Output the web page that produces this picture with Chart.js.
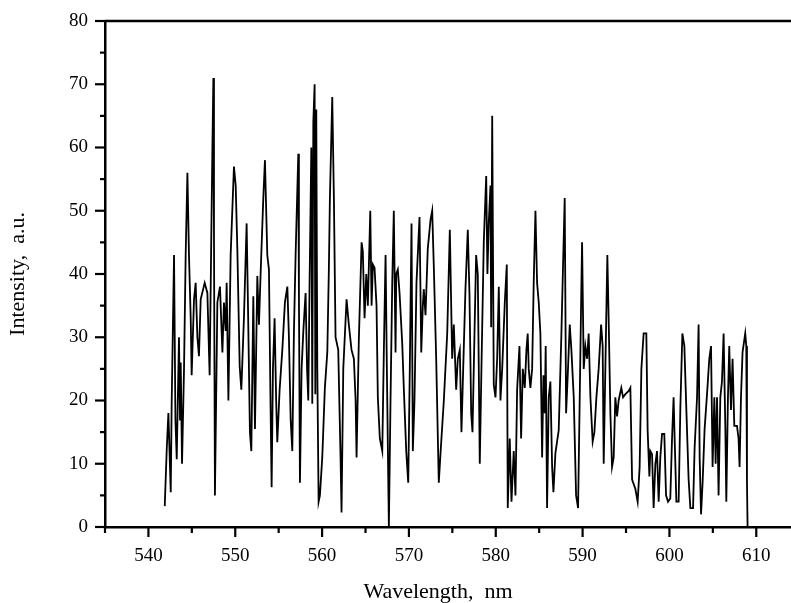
<!DOCTYPE html>
<html><head><meta charset="utf-8">
<script src="https://cdn.jsdelivr.net/npm/chart.js@4/dist/chart.umd.min.js"></script>
<style>html,body{margin:0;padding:0;background:#fff;overflow:hidden}canvas{display:block}</style>
</head><body>
<canvas id="c" width="791" height="603"></canvas>
<script>
const wavelength = [541.88,542.11,542.30,542.57,542.68,542.95,543.11,543.26,543.52,543.64,543.72,543.87,544.10,544.29,544.49,544.67,544.87,544.98,545.25,545.44,545.64,545.82,546.02,546.48,546.79,547.05,547.25,547.36,547.48,547.55,547.66,547.94,548.24,548.52,548.70,548.90,549.01,549.21,549.47,549.85,550.05,550.24,550.51,550.70,551.00,551.31,551.46,551.69,551.85,552.08,552.27,552.54,552.73,552.92,553.23,553.42,553.69,553.88,554.07,554.19,554.34,554.53,554.71,554.84,555.11,555.42,555.72,556.00,556.18,556.38,556.57,556.76,556.95,557.26,557.33,557.45,557.64,557.84,558.10,558.27,558.41,558.56,558.76,558.87,558.99,559.14,559.22,559.33,559.45,559.60,559.75,560.02,560.32,560.60,560.78,560.90,561.17,561.36,561.55,561.86,562.13,562.24,562.44,562.82,563.08,563.39,563.66,563.86,563.97,564.23,564.55,564.69,564.89,565.09,565.27,565.55,565.70,565.85,566.04,566.27,566.42,566.65,566.93,567.11,567.31,567.46,567.69,567.88,568.08,568.26,568.46,568.54,568.72,568.92,569.23,569.41,569.69,569.92,570.10,570.30,570.45,570.64,570.87,571.22,571.42,571.60,571.71,571.91,572.17,572.49,572.68,572.87,573.14,573.44,573.64,574.02,574.41,574.71,574.98,575.17,575.44,575.63,575.86,576.05,576.25,576.51,576.78,576.97,577.17,577.32,577.55,577.74,577.93,578.16,578.35,578.62,578.90,579.04,579.19,579.39,579.47,579.59,579.77,579.97,580.16,580.35,580.54,580.74,581.04,581.27,581.38,581.61,581.81,582.07,582.27,582.46,582.73,582.92,583.11,583.34,583.53,583.68,583.80,583.99,584.19,584.37,584.57,584.76,584.95,585.14,585.34,585.49,585.64,585.75,585.91,586.10,586.29,586.49,586.64,586.87,587.25,587.56,587.76,587.94,588.10,588.29,588.52,588.71,588.98,589.25,589.48,589.67,589.83,589.94,590.13,590.32,590.52,590.70,590.90,591.16,591.36,591.59,591.85,592.13,592.31,592.43,592.62,592.85,593.00,593.20,593.39,593.58,593.77,593.97,594.15,594.46,594.66,594.93,595.31,595.50,595.70,596.08,596.34,596.57,596.77,597.03,597.34,597.49,597.69,597.80,598.00,598.18,598.38,598.57,598.76,598.95,599.15,599.41,599.61,599.84,600.10,600.30,600.48,600.60,600.80,601.06,601.26,601.49,601.72,601.95,602.21,602.41,602.72,602.90,603.18,603.36,603.48,603.64,603.82,604.05,604.33,604.59,604.79,604.97,605.17,605.32,605.48,605.66,605.86,606.05,606.24,606.44,606.55,606.74,606.89,607.09,607.27,607.47,607.78,607.96,608.08,608.24,608.42,608.73,608.85,608.93,609.00];
const intensity = [3.3,12.3,18,5.5,19.7,43,17,10.7,30,17,26,10,25,43,56,43,33,24,36,38.6,30,27,36,38.6,37,24,47,59,71,46,5,35.5,38,27.6,35.5,31,38.6,20,43,57,54,44,25.4,21.7,33,48,35.5,15,12,36.5,15.5,39.7,32,40,52,58,43,40.7,18.6,6.3,25,33,20,13.4,21.7,28,35.5,38,30,17,12,31,43,59,37.5,7,25,31,37,25,20,38.6,60,19.5,64,70,21,66,25,4,5,11,22,27.6,40.7,52,68,52,30,28,10.7,2.3,25,36,32,28,26.6,20,11,29.5,45,43.6,33,40,35,50,35,41.5,41,35,20.5,14,12,27.6,43,25,0,20,38.6,50,27.6,40,40.7,37,29,22,12,7,25,48,12,20,38.6,49,27.6,35,37.6,33.5,44,48.6,50,41,26.6,7,11.7,20,30.6,47,26.6,32,21.7,26.6,28,15,25,37.6,47,37,18,15,30.6,43,40,10,25,45,55.5,40,48,54,31.6,65,22.5,20.5,26.6,38,20,25,35.5,41.5,3,14,4,12,5,21.7,28.6,14,25,22,28,30.6,25,22,25,38.6,50,38.6,35.5,30.6,11,24,18,28.6,3,20.5,23,9.5,5.5,11.7,15.3,30.6,42,52,18,24,32,28,20.5,5,3,20.5,35.5,45,25,28.6,26.6,30.6,20.5,13.5,15,20.5,25,32,28.6,10,25,43,33,18,9.5,11,20.5,17.5,20,22,20.5,21,21.5,22,7.5,6,4,9.5,25,30.6,30.6,15.3,8,12,11.5,3,10,12,4,11,14.7,14.7,5,4,4.5,14,20.5,14,4,4,19,30.6,28.6,18.5,7.5,3,3,12.5,20.5,32,11,2,7,15.5,21,26.6,28.6,9.5,20.5,10,20.5,5,20.5,23,30.6,15.5,4,20.5,28.6,18.5,26.6,16,16,14,9.5,20.5,27.6,30.6,28.6,7,0];
const xTicks = [535,540,545,550,555,560,565,570,575,580,585,590,595,600,605,610];
const yTicks = [0,5,10,15,20,25,30,35,40,45,50,55,60,65,70,75,80];
const xTitle = 'Wavelength,  nm';
const yTitle = 'Intensity,  a.u.';

const FONT = "'Liberation Serif','Times New Roman',serif";
const points = wavelength.map((w, i) => ({x: w, y: intensity[i]}));

const frame = {
  id: 'frame',
  afterDraw(chart) {
    const {ctx, chartArea: a, scales: {x, y}} = chart;
    ctx.save();
    ctx.strokeStyle = '#000';
    ctx.lineWidth = 2.5;
    ctx.beginPath();
    ctx.moveTo(a.left, a.top); ctx.lineTo(a.right + 5, a.top);
    ctx.stroke();
    ctx.lineWidth = 2.2;
    yTicks.forEach(v => {
      const p = y.getPixelForValue(v);
      const len = v % 10 === 0 ? 10 : 5;
      ctx.beginPath(); ctx.moveTo(a.left - len, p); ctx.lineTo(a.left, p); ctx.stroke();
    });
    xTicks.forEach(v => {
      const p = x.getPixelForValue(v);
      const len = v % 10 === 0 ? 10 : 6;
      ctx.beginPath(); ctx.moveTo(p, a.bottom); ctx.lineTo(p, a.bottom + len); ctx.stroke();
    });
    ctx.fillStyle = '#000';
    ctx.font = '22px ' + FONT;
    ctx.textAlign = 'center';
    ctx.textBaseline = 'middle';
    ctx.fillText(xTitle, 438, 592);
    ctx.translate(18, (a.top + a.bottom) / 2);
    ctx.rotate(-Math.PI / 2);
    ctx.fillText(yTitle, 0, 0);
    ctx.restore();
  }
};

new Chart(document.getElementById('c'), {
  type: 'line',
  data: {datasets: [{data: points, borderColor: '#000', borderWidth: 1.8, pointRadius: 0, tension: 0, fill: false}]},
  options: {
    responsive: false,
    animation: false,
    events: [],
    layout: {padding: {top: 21, right: 0, bottom: 0, left: 0}},
    plugins: {legend: {display: false}, tooltip: {enabled: false}},
    scales: {
      x: {
        type: 'linear', min: 535, max: 614,
        afterBuildTicks: s => { s.ticks = xTicks.map(v => ({value: v})); },
        afterFit: s => { s.height = 76; s.paddingLeft = 0; s.paddingRight = 0; },
        grid: {display: false},
        border: {display: true, color: '#000', width: 2.5},
        ticks: {autoSkip: false, maxRotation: 0, color: '#000', padding: 10,
          font: {family: FONT, size: 19},
          callback: v => (v % 10 === 0 ? String(v) : '')}
      },
      y: {
        min: 0, max: 80,
        afterBuildTicks: s => { s.ticks = yTicks.map(v => ({value: v})); },
        afterFit: s => { s.width = 105; s.paddingTop = 0; s.paddingBottom = 0; },
        grid: {display: false},
        border: {display: true, color: '#000', width: 2.5},
        ticks: {autoSkip: false, color: '#000', padding: 9,
          font: {family: FONT, size: 19},
          callback: v => (v % 10 === 0 ? String(v) : '')}
      }
    }
  },
  plugins: [frame]
});
</script>
</body></html>
